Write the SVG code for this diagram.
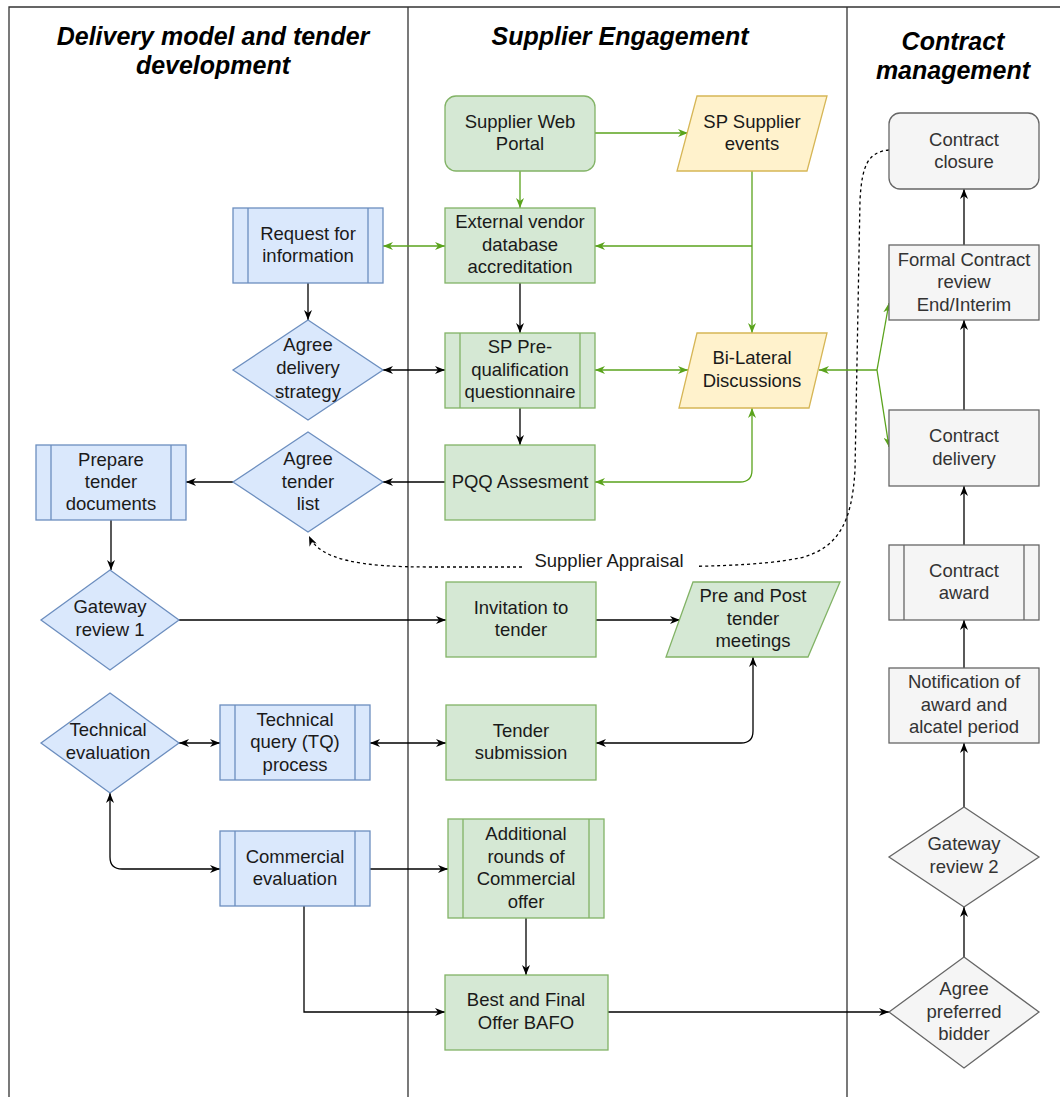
<svg xmlns="http://www.w3.org/2000/svg" width="1060" height="1097" viewBox="0 0 1060 1097">
<style>
text{font-family:"Liberation Sans",Arial,sans-serif;font-size:18.5px;fill:#1a1a1a;text-anchor:middle}
.hd{font-size:25px;font-weight:bold;font-style:italic;fill:#000}
.gt{fill:#333}
.blue{fill:#dae8fc;stroke:#6c8ebf;stroke-width:1.3}
.green{fill:#d5e8d4;stroke:#82b366;stroke-width:1.3}
.yellow{fill:#fff2cc;stroke:#d6b656;stroke-width:1.3}
.gray{fill:#f5f5f5;stroke:#666;stroke-width:1.3}
.bar{fill:none;stroke-width:1.3}
.lane{fill:none;stroke:#333;stroke-width:1.3}
.e{fill:none;stroke:#000;stroke-width:1.3;marker-end:url(#ab)}
.e2{fill:none;stroke:#000;stroke-width:1.3;marker-end:url(#ab);marker-start:url(#ab)}
.g{fill:none;stroke:#5aa31c;stroke-width:1.3;marker-end:url(#ag)}
.g2{fill:none;stroke:#5aa31c;stroke-width:1.3;marker-end:url(#ag);marker-start:url(#ag)}
.d{fill:none;stroke:#000;stroke-width:1.3;stroke-dasharray:3 3;marker-end:url(#ab)}
</style>
<defs>
<marker id="ab" viewBox="0 0 10 8" refX="10" refY="4" markerWidth="10" markerHeight="8" markerUnits="userSpaceOnUse" orient="auto-start-reverse"><path d="M0,0 L10,4 L0,8 L3,4 z" fill="#000"/></marker>
<marker id="ag" viewBox="0 0 10 8" refX="10" refY="4" markerWidth="10" markerHeight="8" markerUnits="userSpaceOnUse" orient="auto-start-reverse"><path d="M0,0 L10,4 L0,8 L3,4 z" fill="#5aa31c"/></marker>
</defs>
<rect x="0" y="0" width="1060" height="1097" fill="#fff"/>
<g id="lanes">
<path class="lane" d="M9,1097 V7 H1060 M408,7 V1097 M847,7 V1097"/>
<text class="hd" x="213" y="45">Delivery model and tender</text>
<text class="hd" x="213" y="74">development</text>
<text class="hd" x="620" y="45">Supplier Engagement</text>
<text class="hd" x="953" y="50">Contract</text>
<text class="hd" x="953" y="79">management</text>
</g>
<g id="connectors">
<path class="e" d="M308,283 V320"/>
<path class="e" d="M520,283 V333"/>
<path class="e" d="M520,408 V445"/>
<path class="e2" d="M383,370 H445"/>
<path class="e" d="M445,482 H383"/>
<path class="e" d="M233,482 H186"/>
<path class="e" d="M111,520 V570"/>
<path class="e" d="M179,620 H446"/>
<path class="e" d="M596,620 H680"/>
<path class="e2" d="M596,743 H741 Q753,743 753,731 V657"/>
<path class="e2" d="M179,743 H220"/>
<path class="e2" d="M370,743 H446"/>
<path class="e2" d="M110,793 V857 Q110,869 122,869 H220"/>
<path class="e" d="M370,869 H448"/>
<path class="e" d="M526,918 V975"/>
<path class="e" d="M304,906 V1012 H445"/>
<path class="e" d="M608,1012 H889"/>
<path class="e" d="M964,957 V907"/>
<path class="e" d="M964,807 V743"/>
<path class="e" d="M964,668 V620"/>
<path class="e" d="M964,545 V486"/>
<path class="e" d="M964,410 V320"/>
<path class="e" d="M964,245 V189"/>
<path class="g" d="M520,171 V208"/>
<path class="g" d="M595,133 H688"/>
<path class="g" d="M752,171 V333"/>
<path class="g" d="M752,246 H595"/>
<path class="g2" d="M383,246 H445"/>
<path class="g2" d="M595,370 H688"/>
<path class="g2" d="M752,408 V470 Q752,482 740,482 H595"/>
<path class="g" d="M877,370 H819"/>
<path class="g" d="M877,370 L889,303"/>
<path class="g" d="M877,370 L889,447"/>
<path class="d" d="M889,150 C868,152 862,165 860,200 L855,470 C852,520 840,548 800,558 C760,566 700,567 610,567 L430,567 C360,567 320,560 309,536"/>
<rect x="522" y="549" width="175" height="24" fill="#fff"/>
<text x="609" y="567">Supplier Appraisal</text>
</g>
<g id="n-swp"><rect class="green" x="445" y="96" width="150" height="75" rx="11"/><text x="520" y="128">Supplier Web</text><text x="520" y="150">Portal</text></g>
<g id="n-spse"><polygon class="yellow" points="697,96 827,96 807,171 677,171"/><text x="752" y="128">SP Supplier</text><text x="752" y="150">events</text></g>
<g id="n-evda"><rect class="green" x="445" y="208" width="150" height="75"/><text x="520" y="228">External vendor</text><text x="520" y="251">database</text><text x="520" y="273">accreditation</text></g>
<g id="n-rfi"><rect class="blue" x="233" y="208" width="150" height="75"/><path class="bar" stroke="#6c8ebf" d="M248,208 V283 M368,208 V283"/><text x="308" y="240">Request for</text><text x="308" y="262">information</text></g>
<g id="n-ads"><polygon class="blue" points="308,320 383,370 308,420 233,370"/><text x="308" y="351">Agree</text><text x="308" y="374">delivery</text><text x="308" y="398">strategy</text></g>
<g id="n-sppq"><rect class="green" x="445" y="333" width="150" height="75"/><path class="bar" stroke="#82b366" d="M460,333 V408 M580,333 V408"/><text x="520" y="353">SP Pre-</text><text x="520" y="376">qualification</text><text x="520" y="398">questionnaire</text></g>
<g id="n-bl"><polygon class="yellow" points="697,333 827,333 809,408 679,408"/><text x="752" y="364">Bi-Lateral</text><text x="752" y="387">Discussions</text></g>
<g id="n-pqq"><rect class="green" x="445" y="445" width="150" height="75"/><text x="520" y="488">PQQ Assesment</text></g>
<g id="n-atl"><polygon class="blue" points="308,432 383,482 308,532 233,482"/><text x="308" y="465">Agree</text><text x="308" y="488">tender</text><text x="308" y="510">list</text></g>
<g id="n-ptd"><rect class="blue" x="36" y="445" width="150" height="75"/><path class="bar" stroke="#6c8ebf" d="M51,445 V520 M171,445 V520"/><text x="111" y="466">Prepare</text><text x="111" y="488">tender</text><text x="111" y="510">documents</text></g>
<g id="n-gr1"><polygon class="blue" points="110,570 179,620 110,670 41,620"/><text x="110" y="613">Gateway</text><text x="110" y="636">review 1</text></g>
<g id="n-itt"><rect class="green" x="446" y="582" width="150" height="75"/><text x="521" y="614">Invitation to</text><text x="521" y="636">tender</text></g>
<g id="n-ppt"><polygon class="green" points="693,582 840,582 808,657 666,657"/><text x="753" y="602">Pre and Post</text><text x="753" y="625">tender</text><text x="753" y="647">meetings</text></g>
<g id="n-te"><polygon class="blue" points="110,693 179,743 110,793 41,743"/><text x="108" y="736">Technical</text><text x="108" y="759">evaluation</text></g>
<g id="n-tq"><rect class="blue" x="220" y="705" width="150" height="75"/><path class="bar" stroke="#6c8ebf" d="M235,705 V780 M355,705 V780"/><text x="295" y="726">Technical</text><text x="295" y="748">query (TQ)</text><text x="295" y="771">process</text></g>
<g id="n-ts"><rect class="green" x="446" y="705" width="150" height="75"/><text x="521" y="737">Tender</text><text x="521" y="759">submission</text></g>
<g id="n-ce"><rect class="blue" x="220" y="831" width="150" height="75"/><path class="bar" stroke="#6c8ebf" d="M235,831 V906 M355,831 V906"/><text x="295" y="863">Commercial</text><text x="295" y="885">evaluation</text></g>
<g id="n-ar"><rect class="green" x="448" y="819" width="156" height="99"/><path class="bar" stroke="#82b366" d="M463,819 V918 M589,819 V918"/><text x="526" y="840">Additional</text><text x="526" y="863">rounds of</text><text x="526" y="885">Commercial</text><text x="526" y="908">offer</text></g>
<g id="n-bafo"><rect class="green" x="445" y="975" width="163" height="75"/><text x="526" y="1006">Best and Final</text><text x="526" y="1029">Offer BAFO</text></g>
<g id="n-cc"><rect class="gray" x="889" y="113" width="150" height="76" rx="11"/><text class="gt" x="964" y="146">Contract</text><text class="gt" x="964" y="168">closure</text></g>
<g id="n-fcr"><rect class="gray" x="889" y="245" width="150" height="75"/><text class="gt" x="964" y="266">Formal Contract</text><text class="gt" x="964" y="288">review</text><text class="gt" x="964" y="311">End/Interim</text></g>
<g id="n-cd"><rect class="gray" x="889" y="410" width="150" height="76"/><text class="gt" x="964" y="442">Contract</text><text class="gt" x="964" y="465">delivery</text></g>
<g id="n-ca"><rect class="gray" x="889" y="545" width="150" height="75"/><path class="bar" stroke="#666" d="M904,545 V620 M1024,545 V620"/><text class="gt" x="964" y="577">Contract</text><text class="gt" x="964" y="599">award</text></g>
<g id="n-noa"><rect class="gray" x="889" y="668" width="150" height="75"/><text class="gt" x="964" y="688">Notification of</text><text class="gt" x="964" y="711">award and</text><text class="gt" x="964" y="733">alcatel period</text></g>
<g id="n-gr2"><polygon class="gray" points="964,807 1039,857 964,907 889,857"/><text class="gt" x="964" y="850">Gateway</text><text class="gt" x="964" y="873">review 2</text></g>
<g id="n-apb"><polygon class="gray" points="964,957 1039,1012 964,1068 889,1012"/><text class="gt" x="964" y="995">Agree</text><text class="gt" x="964" y="1018">preferred</text><text class="gt" x="964" y="1040">bidder</text></g>
</svg>
